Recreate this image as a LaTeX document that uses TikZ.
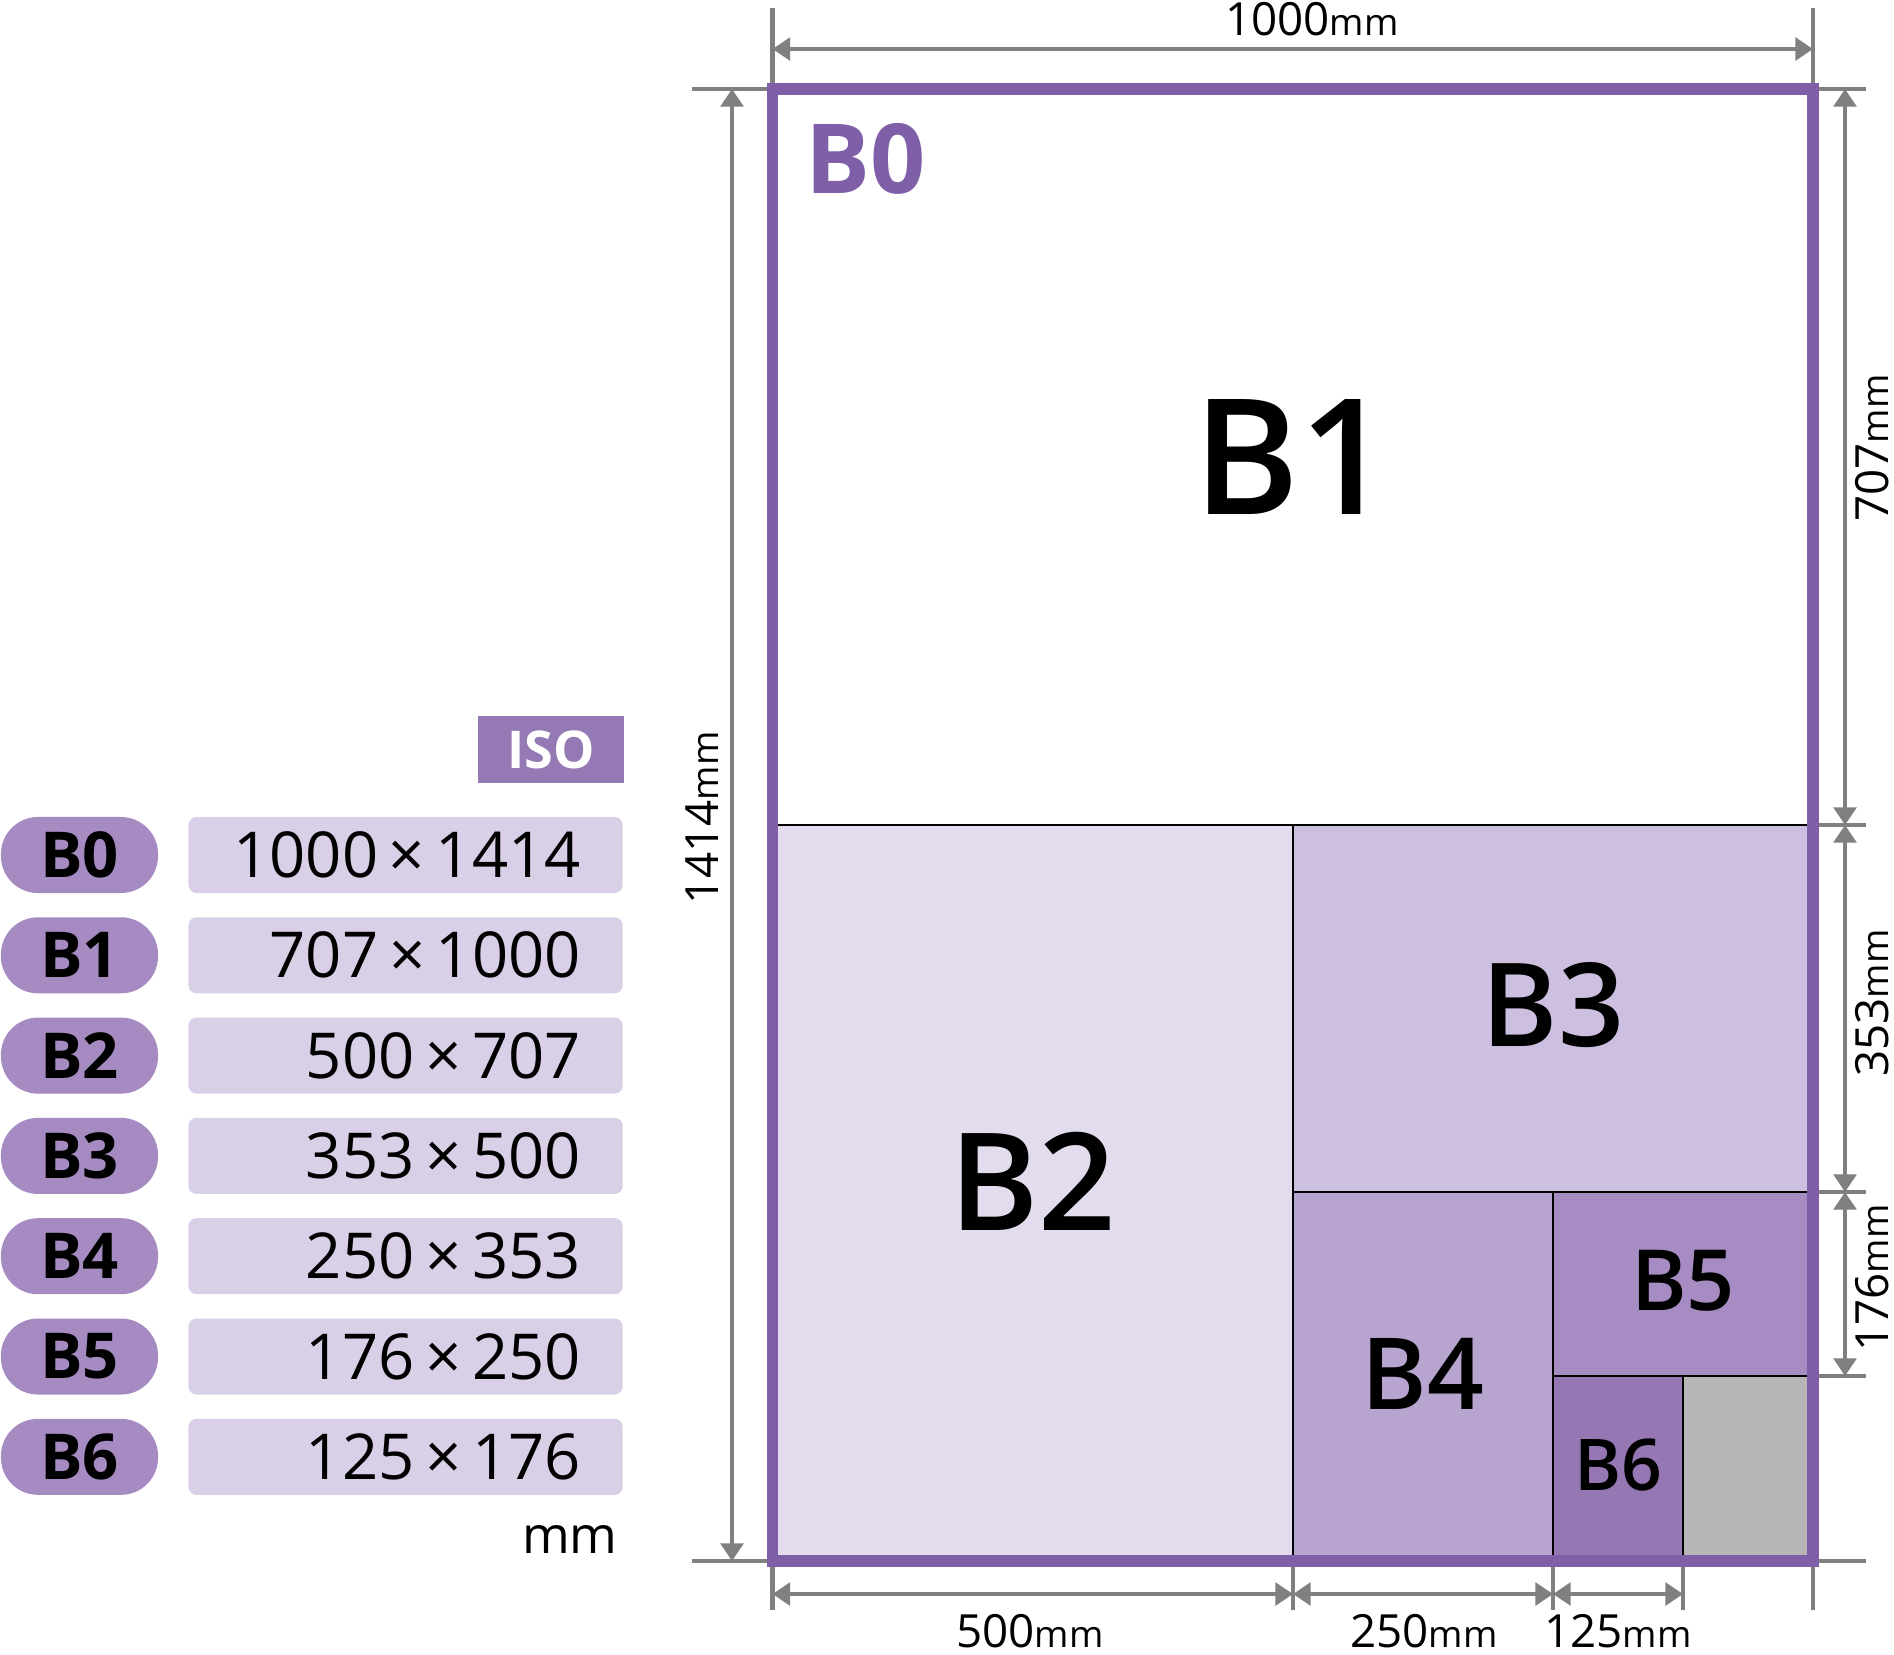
\documentclass[tikz,border=0pt]{standalone}
\usepackage{fontspec}
\setmainfont{Open Sans}
\newfontfamily\midweight{Open Sans Semibold}
\usetikzlibrary{arrows.meta,calc,positioning}
\definecolor{sheetEdge}{HTML}{7E5FA8}
\definecolor{isoFill}{HTML}{9479B4}
\definecolor{pillFill}{HTML}{A68BC2}
\definecolor{rowFill}{HTML}{D9CFE6}
\definecolor{bTwo}{HTML}{E3DCEE}
\definecolor{bThree}{HTML}{CDBFE0}
\definecolor{bFour}{HTML}{B7A5D0}
\definecolor{bFive}{HTML}{A68CC3}
\definecolor{bSix}{HTML}{9477B3}
\definecolor{spare}{HTML}{B5B6B5}
\definecolor{dimGrey}{HTML}{808080}

\newcommand{\mmlabel}[1]{{\fontsize{13}{15}\selectfont #1}{\fontsize{10.5}{12}\selectfont mm}}
\newcommand{\bytimes}{\hspace{0.17em}×\hspace{0.17em}}

\tikzset{
  sheet/.style={draw=black, line width=0.6pt},
  dimline/.style={draw=dimGrey, line width=1.15pt},
  dimarrow/.style={dimline, {Triangle[length=5pt,width=6.4pt]}-{Triangle[length=5pt,width=6.4pt]}},
  dimlabel/.style={inner sep=0pt, anchor=base},
  isobox/.style={fill=isoFill, minimum width=1.46cm, minimum height=0.67cm, inner sep=0pt,
                 text=white, font=\bfseries\fontsize{14.8}{16}\selectfont},
  pill/.style={fill=pillFill, rounded corners=0.37cm, minimum width=1.57cm, minimum height=0.76cm,
               inner sep=0pt, font=\bfseries\fontsize{18}{20}\selectfont},
  sizebox/.style={fill=rowFill, rounded corners=0.08cm, minimum width=4.34cm, minimum height=0.76cm,
                  inner sep=0pt, text width=3.5cm, align=right, font=\fontsize{18}{20}\selectfont},
}

\begin{document}
\begin{tikzpicture}[x=0.01cm, y=-0.01cm]
  \useasboundingbox (0,0) rectangle (1894,1654);

  % grid of the B0 sheet
  \coordinate (nw) at (772.5,89);
  \coordinate (ne) at (1813,89);
  \coordinate (sw) at (772.5,1561);
  \coordinate (se) at (1813,1561);
  \coordinate (r1) at (1813,825);
  \coordinate (r2) at (1813,1192);
  \coordinate (r3) at (1813,1376);
  \coordinate (b1) at (1293,1561);
  \coordinate (b2) at (1553,1561);
  \coordinate (b3) at (1683,1561);

  % sub-sheets
  \foreach \name/\shade/\from/\to/\size/\dy in {
      B1/white/{772.5,89}/{1813,825}/45.8/0,
      B2/bTwo/{772.5,825}/{1293,1561}/38.6/-12,
      B3/bThree/{1293,825}/{1813,1192}/33/-3,
      B4/bFour/{1293,1192}/{1553,1561}/28.3/-3,
      B5/bFive/{1553,1192}/{1813,1376}/24/-3,
      B6/bSix/{1553,1376}/{1683,1561}/20.3/-3}
  {
    \path[sheet, fill=\shade] (\from) rectangle (\to);
    \node[font=\midweight\fontsize{\size}{\size}\selectfont] (\name) at ($(\from)!.5!(\to)+(0,\dy)$) {\name};
  }
  \path[sheet, fill=spare] (1683,1376) rectangle (se);

  % extension lines
  \foreach \c in {nw,ne} \draw[dimline] (\c) -- ++(0,-81);
  \foreach \c in {nw,sw} \draw[dimline] (\c) -- ++(-80.5,0);
  \foreach \c in {ne,r1,r2,r3,se} \draw[dimline] (\c) -- ++(53,0);
  \foreach \c in {sw,b1,b2,b3,se} \draw[dimline] (\c) -- ++(0,49);

  % B0 outline
  \draw[sheetEdge, line width=3.4pt] (nw) rectangle (se);
  \node[anchor=base west, inner sep=0pt, text=sheetEdge,
        font=\bfseries\fontsize{27.5}{30}\selectfont] (B0) at (805,193) {B0};

  % dimensions
  \draw[dimarrow] ($(nw)+(0,-40)$) -- ($(ne)+(0,-40)$);
  \node[dimlabel] (w1000) at (1312,35) {\mmlabel{1000}};
  \draw[dimarrow] ($(nw)+(-40.5,0)$) -- ($(sw)+(-40.5,0)$);
  \node[dimlabel, rotate=90] (h1414) at (718,818) {\mmlabel{1414}};
  \foreach \a/\b/\len/\ypos in {ne/r1/707/448, r1/r2/353/1003, r2/r3/176/1278}
  {
    \draw[dimarrow] ($(\a)+(32,0)$) -- ($(\b)+(32,0)$);
    \node[dimlabel, rotate=90] (h\len) at (1888,\ypos) {\mmlabel{\len}};
  }
  \foreach \a/\b/\len/\xpos in {sw/b1/500/1030, b1/b2/250/1424, b2/b3/125/1618}
  {
    \draw[dimarrow] ($(\a)+(0,33)$) -- ($(\b)+(0,33)$);
    \node[dimlabel] (w\len) at (\xpos,1647) {\mmlabel{\len}};
  }

  % size table
  \node[isobox] (iso) at (551,749.5) {ISO};
  \foreach \name/\wide/\high [count=\i from 0] in {B0/1000/1414, B1/707/1000, B2/500/707,
      B3/353/500, B4/250/353, B5/176/250, B6/125/176}
  {
    \node[pill] (pill\i) at (79.5,{855+100.3*\i}) {\name};
    \node[sizebox, right=0.29cm of pill\i] (size\i) {\wide\bytimes\high};
  }
  \node[anchor=base east, inner sep=0pt, font=\fontsize{14.6}{16}\selectfont] (unit)
       at ($(size6.south east)+(-5,58)$) {mm};
\end{tikzpicture}
\end{document}
